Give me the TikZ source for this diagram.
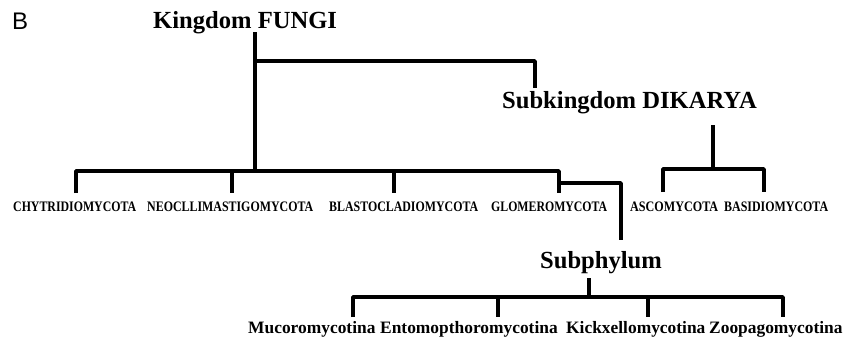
\documentclass[tikz,border=0pt]{standalone}
\usepackage{fontspec}
\usepackage{graphicx}
\setmainfont{Liberation Serif}
\newfontfamily\panelfont{Liberation Sans}

% caps label squeezed to a given width and cap height
\newcommand{\capslabel}[2]{\resizebox{#1pt}{9.6pt}{\bfseries #2}}

\tikzset{
  title/.style={anchor=base west, inner sep=0pt, font=\fontsize{24.6}{28}\selectfont\bfseries},
  phylum/.style={anchor=base west, inner sep=0pt},
  subtaxon/.style={anchor=base west, inner sep=0pt, font=\fontsize{17.4}{20}\selectfont\bfseries},
  branch/.style={line width=3.8pt, line join=round, line cap=butt},
}

\begin{document}
\begin{tikzpicture}[x=1pt, y=-1pt]
\useasboundingbox (0,0) rectangle (844,338);

% panel letter
\node[anchor=base west, inner sep=0pt, font=\panelfont\fontsize{24}{27}\selectfont] (panel) at (12,29) {B};

% ranks
\node[title] (fungi)   at (153,28)  {Kingdom FUNGI};
\node[title] (dikarya) at (502,108) {Subkingdom DIKARYA};
\node[title] (subph)   at (540,268) {Subphylum};

% phyla
\node[phylum] (chy)   at (13,211)  {\capslabel{123}{CHYTRIDIOMYCOTA}};
\node[phylum] (neo)   at (147,211) {\capslabel{166}{NEOCLLIMASTIGOMYCOTA}};
\node[phylum] (bla)   at (329,211) {\capslabel{149}{BLASTOCLADIOMYCOTA}};
\node[phylum] (glo)   at (491,211) {\capslabel{116}{GLOMEROMYCOTA}};
\node[phylum] (asco)  at (630,211) {\capslabel{88}{ASCOMYCOTA}};
\node[phylum] (basi)  at (724,211) {\capslabel{104}{BASIDIOMYCOTA}};

% subphyla
\node[subtaxon] (muc) at (248,333) {Mucoromycotina};
\node[subtaxon] (ent) at (380,333) {Entomopthoromycotina};
\node[subtaxon] (kic) at (566,333) {Kickxellomycotina};
\node[subtaxon] (zoo) at (709,333) {Zoopagomycotina};

% junction points of the tree
\coordinate (fTop)  at (255,32);
\coordinate (fMid)  at (255,61);
\coordinate (fBar)  at (255,171);
\coordinate (dEnd)  at (535,88);
\coordinate (dTop)  at (713,125);
\coordinate (dBar)  at (713,169);
\coordinate (aTick) at (663,192);
\coordinate (bTick) at (764,192);
\coordinate (cTick) at (76,193);
\coordinate (nTick) at (232,193);
\coordinate (lTick) at (394,193);
\coordinate (gTick) at (559,193);
\coordinate (gStep) at (559,183);
\coordinate (sEnd)  at (621,240);
\coordinate (sTop)  at (589,278);
\coordinate (sBar)  at (589,297);
\coordinate (mTick) at (353,317);
\coordinate (eTick) at (498,317);
\coordinate (kTick) at (648,317);
\coordinate (zTick) at (783,317);

% Kingdom FUNGI and its link to DIKARYA
\draw[branch] (fTop) -- (fBar);
\draw[branch] (fMid) -| (dEnd);

% phyla bar
\draw[branch] (cTick) |- (fBar) -| (gTick);
\draw[branch] (fBar) -| (nTick);
\draw[branch] (fBar) -| (lTick);

% DIKARYA
\draw[branch] (dTop) -- (dBar);
\draw[branch] (aTick) |- (dBar) -| (bTick);

% GLOMEROMYCOTA to Subphylum
\draw[branch] (gStep) -| (sEnd);

% subphyla bar
\draw[branch] (sTop) -- (sBar);
\draw[branch] (mTick) |- (sBar) -| (zTick);
\draw[branch] (sBar) -| (eTick);
\draw[branch] (sBar) -| (kTick);
\end{tikzpicture}
\end{document}
